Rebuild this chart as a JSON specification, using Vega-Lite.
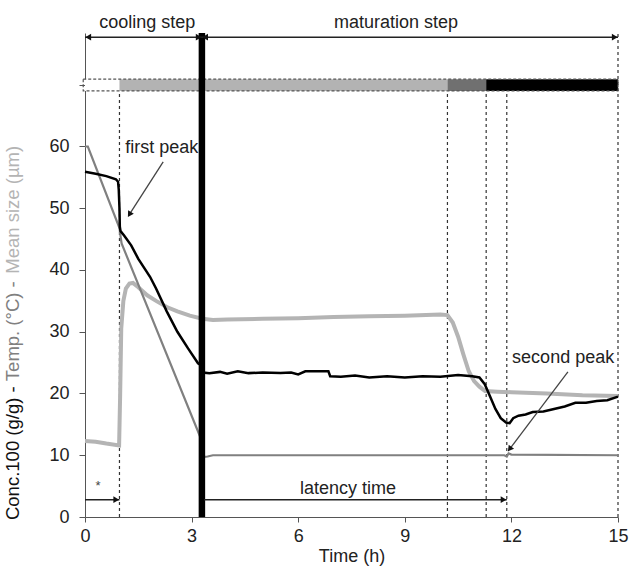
{
  "$schema": "https://vega.github.io/schema/vega-lite/v6.json",
  "width": 533,
  "height": 484,
  "autosize": "none",
  "padding": {"left": 85, "top": 33, "right": 13, "bottom": 54},
  "config": {
    "view": {"stroke": null},
    "font": "Liberation Sans",
    "axis": {"grid": false, "labelFontSize": 18, "titleFontSize": 18, "titleFontWeight": "normal", "domainColor": "#555", "tickColor": "#555", "labelColor": "#222", "titleColor": "#222", "labelFlush": false},
    "axisX": {"tickSize": 5, "labelPadding": 5, "titlePadding": 2},
    "axisY": {"tickSize": 6, "labelPadding": 10}
  },
  "datasets": {
    "curves": [
      {"series": "size", "t": 0, "v": 12.3}, {"series": "size", "t": 0.3, "v": 12.2}, {"series": "size", "t": 0.6, "v": 11.9}, {"series": "size", "t": 0.96, "v": 11.6},
      {"series": "size", "t": 0.99, "v": 20}, {"series": "size", "t": 1.02, "v": 30.5}, {"series": "size", "t": 1.08, "v": 35}, {"series": "size", "t": 1.15, "v": 37},
      {"series": "size", "t": 1.25, "v": 37.8}, {"series": "size", "t": 1.35, "v": 37.9}, {"series": "size", "t": 1.5, "v": 37.2}, {"series": "size", "t": 1.75, "v": 35.9},
      {"series": "size", "t": 2.0, "v": 35.0}, {"series": "size", "t": 2.3, "v": 34.0}, {"series": "size", "t": 2.6, "v": 33.3}, {"series": "size", "t": 2.95, "v": 32.6},
      {"series": "size", "t": 3.3, "v": 32.1}, {"series": "size", "t": 3.6, "v": 31.9}, {"series": "size", "t": 4.0, "v": 32.0}, {"series": "size", "t": 5.0, "v": 32.1},
      {"series": "size", "t": 6.0, "v": 32.2}, {"series": "size", "t": 7.0, "v": 32.4}, {"series": "size", "t": 8.0, "v": 32.5}, {"series": "size", "t": 9.0, "v": 32.6},
      {"series": "size", "t": 10.0, "v": 32.8}, {"series": "size", "t": 10.2, "v": 32.7}, {"series": "size", "t": 10.35, "v": 31.5}, {"series": "size", "t": 10.5, "v": 29.2},
      {"series": "size", "t": 10.65, "v": 26.3}, {"series": "size", "t": 10.8, "v": 23.6}, {"series": "size", "t": 10.95, "v": 22.0}, {"series": "size", "t": 11.1, "v": 21.1},
      {"series": "size", "t": 11.26, "v": 20.4}, {"series": "size", "t": 11.6, "v": 20.3}, {"series": "size", "t": 12.0, "v": 20.2}, {"series": "size", "t": 13.0, "v": 20.0},
      {"series": "size", "t": 14.0, "v": 19.7}, {"series": "size", "t": 15.0, "v": 19.6},
      {"series": "temp", "t": 0, "v": 60}, {"series": "temp", "t": 0.08, "v": 60}, {"series": "temp", "t": 0.97, "v": 46.8}, {"series": "temp", "t": 1.0, "v": 45.5},
      {"series": "temp", "t": 1.03, "v": 44.3}, {"series": "temp", "t": 3.29, "v": 12.3}, {"series": "temp", "t": 3.33, "v": 9.7}, {"series": "temp", "t": 3.45, "v": 9.8},
      {"series": "temp", "t": 3.6, "v": 10.0}, {"series": "temp", "t": 11.8, "v": 10.0}, {"series": "temp", "t": 11.87, "v": 9.8}, {"series": "temp", "t": 11.92, "v": 10.3},
      {"series": "temp", "t": 12.0, "v": 10.1}, {"series": "temp", "t": 15.0, "v": 10.0},
      {"series": "conc", "t": 0, "v": 55.9}, {"series": "conc", "t": 0.3, "v": 55.6}, {"series": "conc", "t": 0.6, "v": 55.2}, {"series": "conc", "t": 0.87, "v": 54.7},
      {"series": "conc", "t": 0.93, "v": 54.3}, {"series": "conc", "t": 0.95, "v": 53}, {"series": "conc", "t": 0.97, "v": 50}, {"series": "conc", "t": 0.98, "v": 47},
      {"series": "conc", "t": 1.0, "v": 46.3}, {"series": "conc", "t": 1.1, "v": 45.6}, {"series": "conc", "t": 1.3, "v": 44.0}, {"series": "conc", "t": 1.5, "v": 41.8},
      {"series": "conc", "t": 1.83, "v": 38.9}, {"series": "conc", "t": 2.0, "v": 37.0}, {"series": "conc", "t": 2.3, "v": 33.3}, {"series": "conc", "t": 2.6, "v": 30.0},
      {"series": "conc", "t": 2.9, "v": 27.3}, {"series": "conc", "t": 3.18, "v": 24.9}, {"series": "conc", "t": 3.29, "v": 24.5}, {"series": "conc", "t": 3.32, "v": 23.4},
      {"series": "conc", "t": 3.5, "v": 23.3}, {"series": "conc", "t": 3.8, "v": 23.5}, {"series": "conc", "t": 4.0, "v": 23.2}, {"series": "conc", "t": 4.3, "v": 23.6},
      {"series": "conc", "t": 4.6, "v": 23.3}, {"series": "conc", "t": 5.0, "v": 23.4}, {"series": "conc", "t": 5.5, "v": 23.3}, {"series": "conc", "t": 5.8, "v": 23.4},
      {"series": "conc", "t": 6.0, "v": 23.1}, {"series": "conc", "t": 6.2, "v": 23.6}, {"series": "conc", "t": 6.85, "v": 23.6}, {"series": "conc", "t": 6.9, "v": 22.8},
      {"series": "conc", "t": 7.2, "v": 22.7}, {"series": "conc", "t": 7.6, "v": 22.9}, {"series": "conc", "t": 8.0, "v": 22.6}, {"series": "conc", "t": 8.5, "v": 22.8},
      {"series": "conc", "t": 9.0, "v": 22.6}, {"series": "conc", "t": 9.5, "v": 22.8}, {"series": "conc", "t": 10.0, "v": 22.7}, {"series": "conc", "t": 10.5, "v": 23.0},
      {"series": "conc", "t": 10.9, "v": 22.8}, {"series": "conc", "t": 11.1, "v": 22.6}, {"series": "conc", "t": 11.25, "v": 21.5}, {"series": "conc", "t": 11.4, "v": 19.5},
      {"series": "conc", "t": 11.55, "v": 17.5}, {"series": "conc", "t": 11.7, "v": 16.0}, {"series": "conc", "t": 11.85, "v": 15.3}, {"series": "conc", "t": 11.95, "v": 15.2},
      {"series": "conc", "t": 12.05, "v": 16.0}, {"series": "conc", "t": 12.2, "v": 16.4}, {"series": "conc", "t": 12.4, "v": 16.6}, {"series": "conc", "t": 12.6, "v": 17.0},
      {"series": "conc", "t": 12.9, "v": 17.1}, {"series": "conc", "t": 13.2, "v": 17.5}, {"series": "conc", "t": 13.5, "v": 17.9}, {"series": "conc", "t": 13.8, "v": 18.5},
      {"series": "conc", "t": 14.1, "v": 18.5}, {"series": "conc", "t": 14.4, "v": 18.8}, {"series": "conc", "t": 14.7, "v": 18.9}, {"series": "conc", "t": 15.0, "v": 19.5}
    ],
    "bar": [
      {"x0": 0, "x1": 0.97, "y0": 69.0, "y1": 70.9, "phase": "none"},
      {"x0": 0.97, "x1": 10.2, "y0": 69.0, "y1": 70.9, "phase": "light"},
      {"x0": 10.2, "x1": 11.29, "y0": 69.0, "y1": 70.9, "phase": "dark"},
      {"x0": 11.29, "x1": 15, "y0": 69.0, "y1": 70.9, "phase": "black"}
    ],
    "vlines": [
      {"t": 0.97, "bottom": 0, "top": 69.0}, {"t": 10.2, "bottom": 0, "top": 69.0}, {"t": 11.29, "bottom": 0, "top": 69.0}, {"t": 11.87, "bottom": 0, "top": 69.0}, {"t": 15, "bottom": 0, "top": 78.38}
    ],
    "harrows": [
      {"name": "cooling", "x1": 0, "x2": 3.29, "y": 77.7},
      {"name": "maturation", "x1": 3.29, "x2": 15, "y": 77.7},
      {"name": "star", "x1": 0, "x2": 0.97, "y": 2.8},
      {"name": "latency", "x1": 3.35, "x2": 11.87, "y": 2.8}
    ],
    "heads": [
      {"x": 0.09, "y": 77.7, "dir": "left"},
      {"x": 3.2, "y": 77.7, "dir": "right"},
      {"x": 3.38, "y": 77.7, "dir": "left"},
      {"x": 14.91, "y": 77.7, "dir": "right"},
      {"x": 0.88, "y": 2.8, "dir": "right"},
      {"x": 11.78, "y": 2.8, "dir": "right"}
    ],
    "darrows": [
      {"name": "first", "xa": 2.2, "ya": 57.5, "xb": 1.25, "yb": 49.0},
      {"name": "second", "xa": 13.59, "ya": 23.5, "xb": 11.95, "yb": 11.0}
    ],
    "texts": [
      {"label": "cooling step", "x": 1.75, "y": 80.05, "anchor": "center"},
      {"label": "maturation step", "x": 8.75, "y": 80.05, "anchor": "center"},
      {"label": "first peak", "x": 1.13, "y": 59.7, "anchor": "left"},
      {"label": "second peak", "x": 12.02, "y": 25.7, "anchor": "left"},
      {"label": "latency time", "x": 7.4, "y": 4.6, "anchor": "center"}
    ],
    "ytitle": [
      {"label": "Conc.100 (g/g) - ", "series": "conc", "x": -2.03, "y": -0.49},
      {"label": "Temp. (°C) - ", "series": "temp", "x": -2.03, "y": 22.0},
      {"label": "Mean size (µm)", "series": "size", "x": -2.03, "y": 39.4}
    ]
  },
  "layer": [
    {
      "data": {"name": "bar"},
      "mark": {"type": "rect"},
      "encoding": {
        "x": {"field": "x0", "type": "quantitative", "scale": {"domain": [0, 15], "nice": false}, "axis": {"values": [0, 3, 6, 9, 12, 15], "title": "Time (h)"}},
        "x2": {"field": "x1"},
        "y": {"field": "y0", "type": "quantitative", "scale": {"domain": [0, 78.38], "nice": false}, "axis": {"values": [0, 10, 20, 30, 40, 50, 60, 70], "labelExpr": "datum.value > 60 ? '' : datum.label", "title": null}},
        "y2": {"field": "y1"},
        "fill": {"field": "phase", "type": "nominal", "legend": null, "scale": {"domain": ["none", "light", "dark", "black"], "range": ["#ffffff", "#b3b3b3", "#707070", "#000000"]}}
      }
    },
    {
      "data": {"values": [{"x0": -0.05, "x1": 15, "y0": 69.0, "y1": 70.9}]},
      "mark": {"type": "rect", "fill": "transparent", "stroke": "#555", "strokeDash": [3, 2], "strokeWidth": 1.2},
      "encoding": {
        "x": {"field": "x0", "type": "quantitative", "scale": {"domain": [0, 15], "nice": false}, "axis": {"values": [0, 3, 6, 9, 12, 15], "title": "Time (h)"}},
        "x2": {"field": "x1"},
        "y": {"field": "y0", "type": "quantitative", "scale": {"domain": [0, 78.38], "nice": false}, "axis": {"values": [0, 10, 20, 30, 40, 50, 60, 70], "labelExpr": "datum.value > 60 ? '' : datum.label", "title": null}},
        "y2": {"field": "y1"}
      }
    },
    {
      "data": {"name": "vlines"},
      "mark": {"type": "rule", "color": "#333", "strokeDash": [3, 3], "strokeWidth": 1.2},
      "encoding": {
        "x": {"field": "t", "type": "quantitative", "scale": {"domain": [0, 15], "nice": false}, "axis": {"values": [0, 3, 6, 9, 12, 15], "title": "Time (h)"}},
        "y": {"field": "bottom", "type": "quantitative", "scale": {"domain": [0, 78.38], "nice": false}, "axis": {"values": [0, 10, 20, 30, 40, 50, 60, 70], "labelExpr": "datum.value > 60 ? '' : datum.label", "title": null}},
        "y2": {"field": "top"}
      }
    },
    {
      "data": {"name": "curves"},
      "transform": [{"filter": "datum.series === 'size'"}],
      "mark": {"type": "line", "color": "#b4b4b4", "strokeWidth": 4},
      "encoding": {
        "x": {"field": "t", "type": "quantitative", "scale": {"domain": [0, 15], "nice": false}, "axis": {"values": [0, 3, 6, 9, 12, 15], "title": "Time (h)"}},
        "y": {"field": "v", "type": "quantitative", "scale": {"domain": [0, 78.38], "nice": false}, "axis": {"values": [0, 10, 20, 30, 40, 50, 60, 70], "labelExpr": "datum.value > 60 ? '' : datum.label", "title": null}}
      }
    },
    {
      "data": {"name": "curves"},
      "transform": [{"filter": "datum.series === 'temp'"}],
      "mark": {"type": "line", "color": "#808080", "strokeWidth": 2.2},
      "encoding": {
        "x": {"field": "t", "type": "quantitative", "scale": {"domain": [0, 15], "nice": false}, "axis": {"values": [0, 3, 6, 9, 12, 15], "title": "Time (h)"}},
        "y": {"field": "v", "type": "quantitative", "scale": {"domain": [0, 78.38], "nice": false}, "axis": {"values": [0, 10, 20, 30, 40, 50, 60, 70], "labelExpr": "datum.value > 60 ? '' : datum.label", "title": null}}
      }
    },
    {
      "data": {"name": "curves"},
      "transform": [{"filter": "datum.series === 'conc'"}],
      "mark": {"type": "line", "color": "#000000", "strokeWidth": 2.5},
      "encoding": {
        "x": {"field": "t", "type": "quantitative", "scale": {"domain": [0, 15], "nice": false}, "axis": {"values": [0, 3, 6, 9, 12, 15], "title": "Time (h)"}},
        "y": {"field": "v", "type": "quantitative", "scale": {"domain": [0, 78.38], "nice": false}, "axis": {"values": [0, 10, 20, 30, 40, 50, 60, 70], "labelExpr": "datum.value > 60 ? '' : datum.label", "title": null}}
      }
    },
    {
      "data": {"values": [{"t": 3.29, "bottom": 0, "top": 78.38}]},
      "mark": {"type": "rule", "color": "#000000", "strokeWidth": 6.5},
      "encoding": {
        "x": {"field": "t", "type": "quantitative", "scale": {"domain": [0, 15], "nice": false}, "axis": {"values": [0, 3, 6, 9, 12, 15], "title": "Time (h)"}},
        "y": {"field": "bottom", "type": "quantitative", "scale": {"domain": [0, 78.38], "nice": false}, "axis": {"values": [0, 10, 20, 30, 40, 50, 60, 70], "labelExpr": "datum.value > 60 ? '' : datum.label", "title": null}},
        "y2": {"field": "top"}
      }
    },
    {
      "data": {"name": "harrows"},
      "mark": {"type": "rule", "color": "#222", "strokeWidth": 1.4},
      "encoding": {
        "x": {"field": "x1", "type": "quantitative", "scale": {"domain": [0, 15], "nice": false}, "axis": {"values": [0, 3, 6, 9, 12, 15], "title": "Time (h)"}},
        "x2": {"field": "x2"},
        "y": {"field": "y", "type": "quantitative", "scale": {"domain": [0, 78.38], "nice": false}, "axis": {"values": [0, 10, 20, 30, 40, 50, 60, 70], "labelExpr": "datum.value > 60 ? '' : datum.label", "title": null}}
      }
    },
    {
      "data": {"name": "heads"},
      "mark": {"type": "point", "filled": true, "color": "#111", "size": 45, "opacity": 1},
      "encoding": {
        "x": {"field": "x", "type": "quantitative", "scale": {"domain": [0, 15], "nice": false}, "axis": {"values": [0, 3, 6, 9, 12, 15], "title": "Time (h)"}},
        "y": {"field": "y", "type": "quantitative", "scale": {"domain": [0, 78.38], "nice": false}, "axis": {"values": [0, 10, 20, 30, 40, 50, 60, 70], "labelExpr": "datum.value > 60 ? '' : datum.label", "title": null}},
        "shape": {"field": "dir", "type": "nominal", "legend": null, "scale": {"domain": ["left", "right"], "range": ["triangle-left", "triangle-right"]}}
      }
    },
    {
      "data": {"name": "darrows"},
      "mark": {"type": "rule", "color": "#444", "strokeWidth": 1.3},
      "encoding": {
        "x": {"field": "xa", "type": "quantitative", "scale": {"domain": [0, 15], "nice": false}, "axis": {"values": [0, 3, 6, 9, 12, 15], "title": "Time (h)"}},
        "x2": {"field": "xb"},
        "y": {"field": "ya", "type": "quantitative", "scale": {"domain": [0, 78.38], "nice": false}, "axis": {"values": [0, 10, 20, 30, 40, 50, 60, 70], "labelExpr": "datum.value > 60 ? '' : datum.label", "title": null}},
        "y2": {"field": "yb"}
      }
    },
    {
      "data": {"name": "darrows"},
      "transform": [{"filter": "datum.name === 'first'"}],
      "mark": {"type": "point", "filled": true, "color": "#111", "size": 45, "opacity": 1, "shape": "triangle-up", "angle": 212},
      "encoding": {
        "x": {"field": "xb", "type": "quantitative", "scale": {"domain": [0, 15], "nice": false}, "axis": {"values": [0, 3, 6, 9, 12, 15], "title": "Time (h)"}},
        "y": {"field": "yb", "type": "quantitative", "scale": {"domain": [0, 78.38], "nice": false}, "axis": {"values": [0, 10, 20, 30, 40, 50, 60, 70], "labelExpr": "datum.value > 60 ? '' : datum.label", "title": null}}
      }
    },
    {
      "data": {"name": "darrows"},
      "transform": [{"filter": "datum.name === 'second'"}],
      "mark": {"type": "point", "filled": true, "color": "#111", "size": 45, "opacity": 1, "shape": "triangle-up", "angle": 217},
      "encoding": {
        "x": {"field": "xb", "type": "quantitative", "scale": {"domain": [0, 15], "nice": false}, "axis": {"values": [0, 3, 6, 9, 12, 15], "title": "Time (h)"}},
        "y": {"field": "yb", "type": "quantitative", "scale": {"domain": [0, 78.38], "nice": false}, "axis": {"values": [0, 10, 20, 30, 40, 50, 60, 70], "labelExpr": "datum.value > 60 ? '' : datum.label", "title": null}}
      }
    },
    {
      "data": {"name": "texts"},
      "transform": [{"filter": "datum.anchor === 'center'"}],
      "mark": {"type": "text", "fontSize": 18, "color": "#222", "align": "center", "baseline": "middle"},
      "encoding": {
        "x": {"field": "x", "type": "quantitative", "scale": {"domain": [0, 15], "nice": false}, "axis": {"values": [0, 3, 6, 9, 12, 15], "title": "Time (h)"}},
        "y": {"field": "y", "type": "quantitative", "scale": {"domain": [0, 78.38], "nice": false}, "axis": {"values": [0, 10, 20, 30, 40, 50, 60, 70], "labelExpr": "datum.value > 60 ? '' : datum.label", "title": null}},
        "text": {"field": "label"}
      }
    },
    {
      "data": {"name": "texts"},
      "transform": [{"filter": "datum.anchor === 'left'"}],
      "mark": {"type": "text", "fontSize": 18, "color": "#222", "align": "left", "baseline": "middle"},
      "encoding": {
        "x": {"field": "x", "type": "quantitative", "scale": {"domain": [0, 15], "nice": false}, "axis": {"values": [0, 3, 6, 9, 12, 15], "title": "Time (h)"}},
        "y": {"field": "y", "type": "quantitative", "scale": {"domain": [0, 78.38], "nice": false}, "axis": {"values": [0, 10, 20, 30, 40, 50, 60, 70], "labelExpr": "datum.value > 60 ? '' : datum.label", "title": null}},
        "text": {"field": "label"}
      }
    },
    {
      "data": {"values": [{"label": "*", "x": 0.37, "y": 5.0}]},
      "mark": {"type": "text", "fontSize": 13, "color": "#444", "align": "center", "baseline": "middle"},
      "encoding": {
        "x": {"field": "x", "type": "quantitative", "scale": {"domain": [0, 15], "nice": false}, "axis": {"values": [0, 3, 6, 9, 12, 15], "title": "Time (h)"}},
        "y": {"field": "y", "type": "quantitative", "scale": {"domain": [0, 78.38], "nice": false}, "axis": {"values": [0, 10, 20, 30, 40, 50, 60, 70], "labelExpr": "datum.value > 60 ? '' : datum.label", "title": null}},
        "text": {"field": "label"}
      }
    },
    {
      "data": {"name": "ytitle"},
      "mark": {"type": "text", "fontSize": 18.5, "align": "left", "baseline": "middle", "angle": 270},
      "encoding": {
        "x": {"field": "x", "type": "quantitative", "scale": {"domain": [0, 15], "nice": false}, "axis": {"values": [0, 3, 6, 9, 12, 15], "title": "Time (h)"}},
        "y": {"field": "y", "type": "quantitative", "scale": {"domain": [0, 78.38], "nice": false}, "axis": {"values": [0, 10, 20, 30, 40, 50, 60, 70], "labelExpr": "datum.value > 60 ? '' : datum.label", "title": null}},
        "text": {"field": "label"},
        "color": {"field": "series", "type": "nominal", "legend": null, "scale": {"domain": ["conc", "temp", "size"], "range": ["#111111", "#808080", "#b4b4b4"]}}
      }
    }
  ]
}
